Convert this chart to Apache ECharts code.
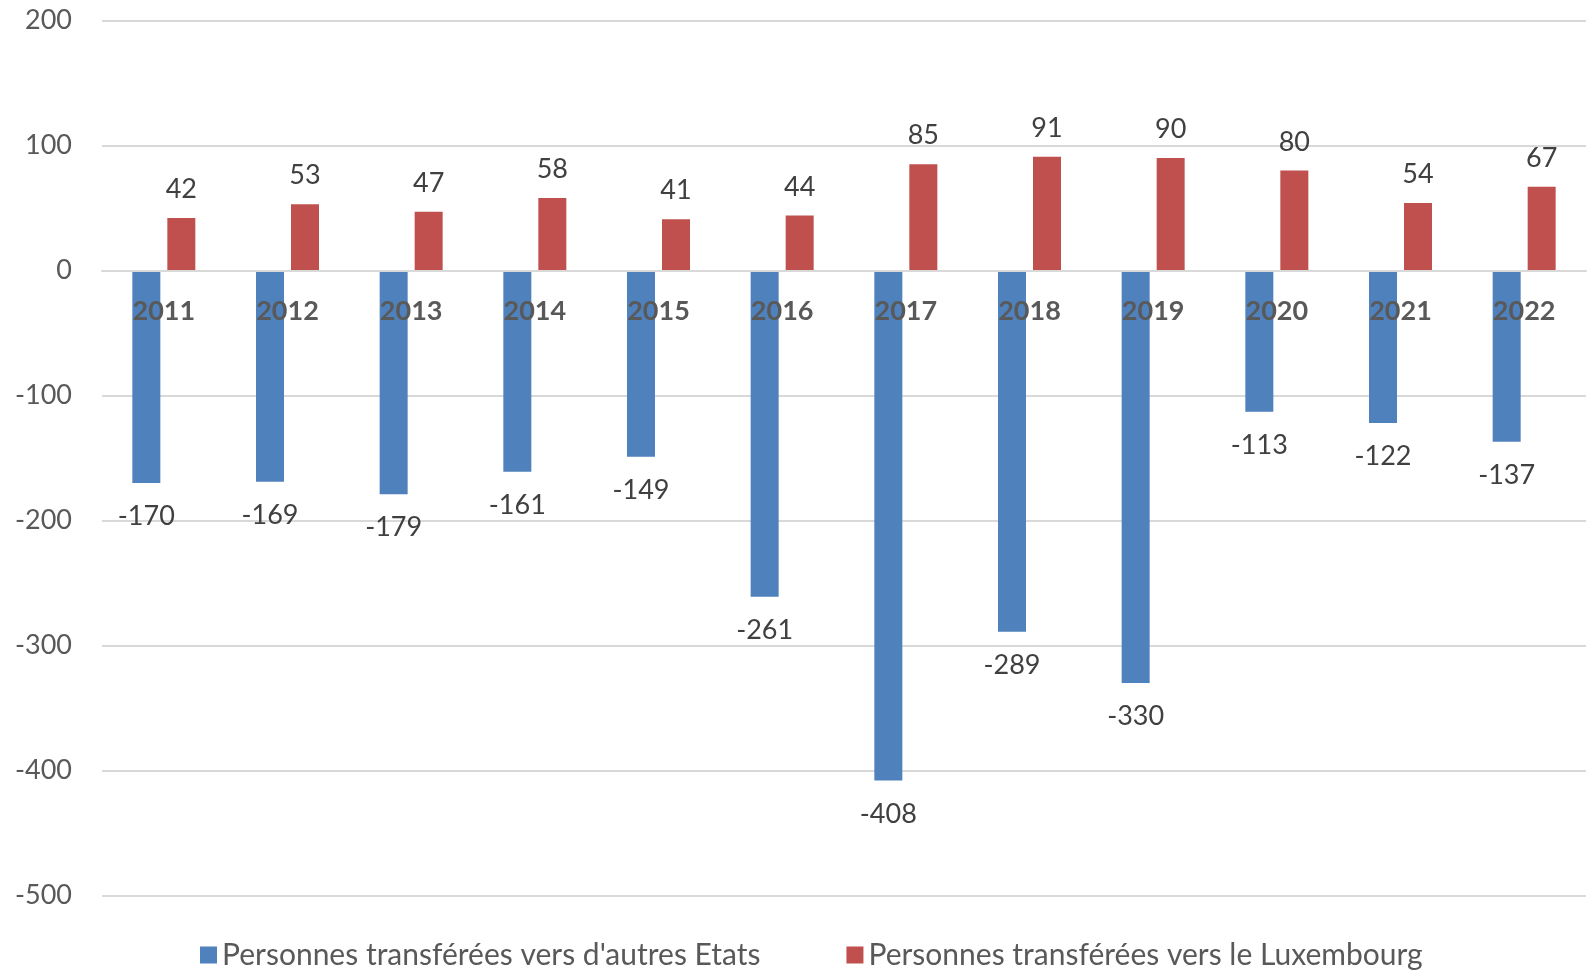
<!DOCTYPE html>
<html>
<head>
<meta charset="utf-8">
<script src="https://cdn.jsdelivr.net/npm/echarts@6/dist/echarts.min.js"></script>
<style>
  html, body { margin: 0; padding: 0; background: #fff; }
  #chart { width: 1589px; height: 970px; }
</style>
</head>
<body>
<div id="chart"></div>
<script>
// années
let years = ['2011', '2012', '2013', '2014', '2015', '2016', '2017', '2018', '2019', '2020', '2021', '2022']
// transferts
let versAutresEtats = [-170, -169, -179, -161, -149, -261, -408, -289, -330, -113, -122, -137]
let versLuxembourg = [42, 53, 47, 58, 41, 44, 85, 91, 90, 80, 54, 67]
let seriesNames = ["Personnes transférées vers d'autres Etats", 'Personnes transférées vers le Luxembourg']

let font = 'Lato, "Open Sans", sans-serif'

echarts.init(document.getElementById('chart')).setOption({
  animation: false,
  textStyle: { fontFamily: font },
  grid: {
    left: 102,
    right: 3,
    top: 20.5,
    bottom: 74.5,
    containLabel: false
  },
  legend: {
    top: 935,
    left: 195,
    itemWidth: 17,
    itemHeight: 17,
    itemGap: 86,
    icon: 'rect',
    textStyle: { fontSize: 30, color: '#595959', fontFamily: font },
    data: seriesNames
  },
  xAxis: {
    type: 'category',
    data: years,
    z: 10,
    position: 'bottom',
    offset: -625, // axe placé sur le zéro
    axisLine: { onZero: false, lineStyle: { color: '#d9d9d9', width: 2 } },
    axisTick: { show: false },
    axisLabel: {
      margin: 27,
      fontSize: 27,
      fontWeight: 'bold',
      color: '#595959',
      fontFamily: font
    }
  },
  yAxis: {
    type: 'value',
    min: -500,
    max: 200,
    interval: 100,
    axisLine: { show: false },
    axisTick: { show: false },
    splitLine: { lineStyle: { color: '#d9d9d9', width: 2 } },
    axisLabel: {
      margin: 30,
      fontSize: 27,
      color: '#595959',
      fontFamily: font
    }
  },
  series: [
    {
      name: seriesNames[0],
      type: 'bar',
      data: versAutresEtats,
      barWidth: 28,
      barGap: '25%',
      itemStyle: { color: '#4f81bd' },
      label: {
        show: true,
        position: 'bottom',
        distance: 20,
        fontSize: 27,
        color: '#404040',
        fontFamily: font
      }
    },
    {
      name: seriesNames[1],
      type: 'bar',
      data: versLuxembourg,
      barWidth: 28,
      barGap: '25%',
      itemStyle: { color: '#c0504d' },
      label: {
        show: true,
        position: 'top',
        distance: 15,
        fontSize: 27,
        color: '#404040',
        fontFamily: font
      }
    }
  ]
})
</script>
</body>
</html>
